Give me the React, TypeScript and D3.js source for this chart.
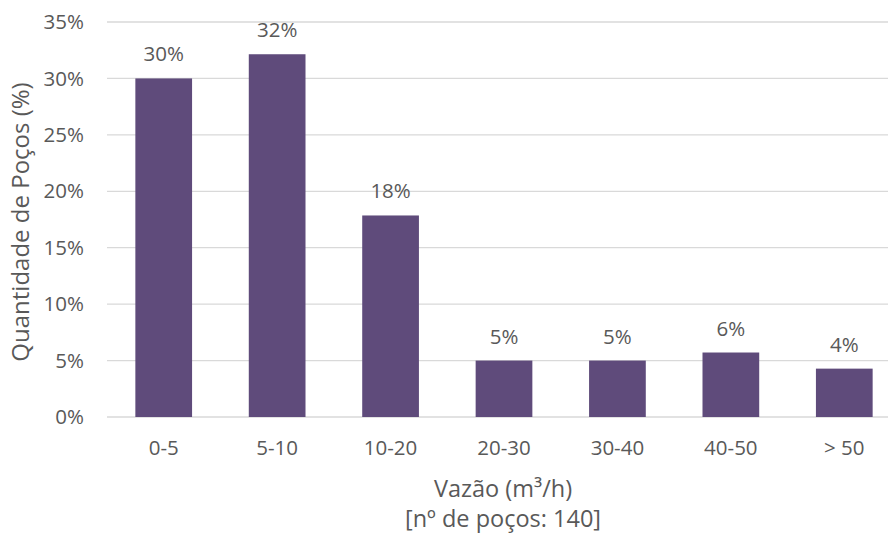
import React from "react";
import * as d3 from "d3";

// Flow-rate classes (m³/h) and well counts per class (total 140 wells)
const categories = ["0-5", "5-10", "10-20", "20-30", "30-40", "40-50", "> 50"];
const wellCounts = [42, 45, 25, 7, 7, 8, 6];
const totalWells = 140;
const yTicks = [0, 0.05, 0.1, 0.15, 0.2, 0.25, 0.3, 0.35];

const W = 888;
const H = 533;
const margin = { left: 107, right: 901, top: 22, bottom: 417 };
const FONT = "'Open Sans', 'Liberation Sans', sans-serif";
const TEXT = "#595959";
const BAR = "#5F4B7B";

export default function App() {
  const shares = wellCounts.map((c) => c / totalWells);
  const x = d3
    .scaleBand<string>()
    .domain(categories)
    .range([margin.left, margin.right])
    .paddingInner(0.5)
    .paddingOuter(0.25);
  const y = d3.scaleLinear().domain([0, 0.35]).range([margin.bottom, margin.top]);
  const pct = d3.format(".0%");

  return (
    <svg
      width={W}
      height={H}
      style={{ position: "absolute", left: 0, top: 0, background: "#fff" }}
      fontFamily={FONT}
    >
      {yTicks.map((t) => (
        <g key={t}>
          <line x1={margin.left} x2={W} y1={y(t)} y2={y(t)} stroke="#D9D9D9" strokeWidth={1.3} />
          <text x={84} y={y(t)} dy="0.35em" textAnchor="end" fontSize={20.5} fill={TEXT}>
            {pct(t)}
          </text>
        </g>
      ))}
      {categories.map((c, i) => (
        <g key={c}>
          <rect
            x={x(c)}
            y={y(shares[i])}
            width={x.bandwidth()}
            height={y(0) - y(shares[i])}
            fill={BAR}
          />
          <text
            x={(x(c) as number) + x.bandwidth() / 2}
            y={y(shares[i]) - 17}
            textAnchor="middle"
            fontSize={20.5}
            fill={TEXT}
          >
            {pct(shares[i])}
          </text>
          <text
            x={(x(c) as number) + x.bandwidth() / 2}
            y={455}
            textAnchor="middle"
            fontSize={20.5}
            fill={TEXT}
          >
            {c}
          </text>
        </g>
      ))}
      <text
        transform={`translate(29, 222) rotate(-90)`}
        textAnchor="middle"
        fontSize={24}
        fill={TEXT}
      >
        Quantidade de Poços (%)
      </text>
      <text x={503} y={497} textAnchor="middle" fontSize={23.5} fill={TEXT}>
        Vazão (m³/h)
      </text>
      <text x={503} y={527} textAnchor="middle" fontSize={23.5} fill={TEXT}>
        [nº de poços: {totalWells}]
      </text>
    </svg>
  );
}
